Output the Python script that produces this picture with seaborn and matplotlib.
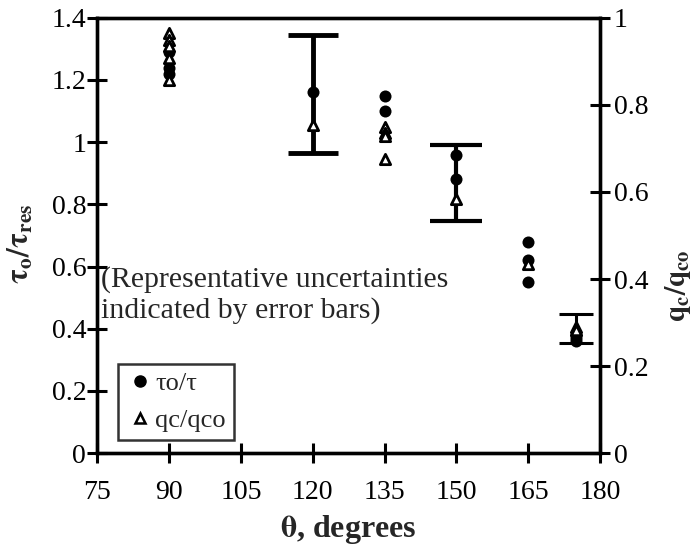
import numpy as np
import pandas as pd
import matplotlib
matplotlib.use('Agg')
import matplotlib.pyplot as plt
import seaborn as sns
from matplotlib.ticker import FuncFormatter
from matplotlib.lines import Line2D

# tau_o / tau_res (left axis), filled circles
tau_theta = [90, 90, 90, 120, 135, 135, 150, 150, 165, 165, 165, 175, 175, 175]
tau_vals = [1.29, 1.24, 1.22, 1.16, 1.15, 1.10, 0.96, 0.88, 0.68, 0.62, 0.55, 0.38, 0.37, 0.36]

# q_c / q_co (right axis), open triangles
q_theta = [90, 90, 90, 90, 90, 120, 135, 135, 135, 135, 150, 165, 175, 175]
q_vals = [0.964, 0.950, 0.936, 0.907, 0.857, 0.754, 0.750, 0.736, 0.729, 0.675, 0.584, 0.435, 0.290, 0.282]

# representative uncertainties (left axis units)
err_theta = [120, 150, 175]
err_lo = [0.965, 0.745, 0.354]
err_hi = [1.345, 0.990, 0.446]

x_ticks = [75, 90, 105, 120, 135, 150, 165, 180]
left_ticks = [0, 0.2, 0.4, 0.6, 0.8, 1.0, 1.2, 1.4]
right_ticks = [0, 0.2, 0.4, 0.6, 0.8, 1.0]

sns.set_style('ticks')
plt.rcParams['font.family'] = ['Liberation Serif', 'DejaVu Serif']
plt.rcParams['mathtext.fontset'] = 'stix'

fig = plt.figure(figsize=(7, 5.56), dpi=100)
ax = fig.add_axes([0.139, 0.185, 0.718, 0.783])
ax2 = ax.twinx()

tau_df = pd.DataFrame({'theta': tau_theta, 'val': tau_vals})
q_df = pd.DataFrame({'theta': q_theta, 'val': q_vals})

# error bars
caps = [18, 19, 12]
lws = [3.5, 3.0, 2.2]
for i in range(len(err_theta)):
    mid = (err_lo[i] + err_hi[i]) / 2
    half = (err_hi[i] - err_lo[i]) / 2
    ax.errorbar([err_theta[i]], [mid], yerr=[[half], [half]], fmt='none',
                ecolor='black', elinewidth=lws[i], capsize=caps[i], capthick=lws[i], zorder=2)

sns.scatterplot(data=tau_df, x='theta', y='val', ax=ax, marker='o', s=75,
                color='black', edgecolor='black', linewidth=0, zorder=3, legend=False)
sns.scatterplot(data=q_df, x='theta', y='val', ax=ax2, marker='^', s=55,
                facecolor='white', edgecolor='black', linewidth=2, zorder=4, legend=False)

ax.set_xlim(75, 180)
ax.set_ylim(0, 1.4)
ax2.set_ylim(0, 1.0)
ax.set_xticks(x_ticks)
ax.set_yticks(left_ticks)
ax2.set_yticks(right_ticks)
fmt = FuncFormatter(lambda v, p: '{:g}'.format(round(v, 2)))
ax.yaxis.set_major_formatter(fmt)
ax2.yaxis.set_major_formatter(fmt)

for a in (ax, ax2):
    for s in a.spines.values():
        s.set_linewidth(2.4)
        s.set_color('black')
    a.tick_params(direction='inout', length=14, width=2.2, labelsize=20, colors='black', pad=3)
ax.tick_params(axis='x', pad=12)
ax.tick_params(axis='y', pad=1)

ax.set_xlabel(r'$\mathbf{\theta}$, degrees', fontsize=23, fontweight='bold', labelpad=6)
ax.set_ylabel(r'$\mathbf{\tau_o/\tau_{res}}$', fontsize=22, labelpad=2)
ax.yaxis.set_label_coords(-0.122, 0.48)
ax2.set_ylabel(r'$\mathbf{q_c/q_{co}}$', fontsize=21, labelpad=10)
ax2.yaxis.set_label_coords(1.125, 0.385)

ax.text(0.008, 0.43, '(Representative uncertainties\nindicated by error bars)',
        transform=ax.transAxes, fontsize=21.5, va='top', ha='left', linespacing=1.2)

handles = [
    Line2D([], [], marker='o', color='black', linestyle='none', markersize=8),
    Line2D([], [], marker='^', markerfacecolor='white', markeredgecolor='black',
           markeredgewidth=1.8, linestyle='none', markersize=7),
]
leg = ax.legend(handles, ['τo/τ', 'qc/qco'], loc='lower left',
                bbox_to_anchor=(0.042, 0.03), fontsize=19, frameon=True, fancybox=False,
                edgecolor='black', handletextpad=0.1, handlelength=1.0, borderpad=0.3,
                labelspacing=0.5, borderaxespad=0)
leg.get_frame().set_linewidth(1.8)

fig.savefig('out.png', dpi=100)
